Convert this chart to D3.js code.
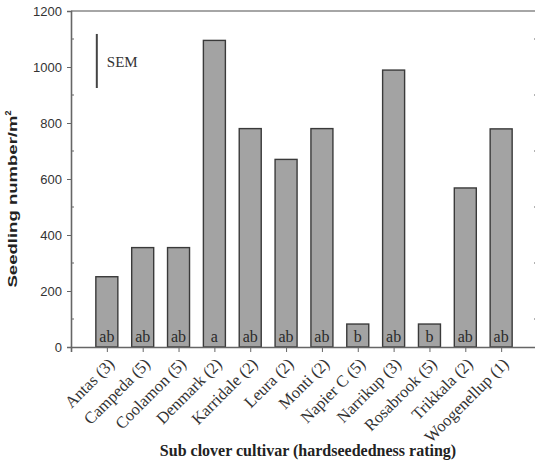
<!DOCTYPE html>
<html>
<head>
<meta charset="utf-8">
<script src="https://cdn.jsdelivr.net/npm/d3@7"></script>
<style>
  html, body { margin: 0; padding: 0; background: #fff; }
  svg { display: block; }
</style>
</head>
<body>
<svg id="chart" width="535" height="464"></svg>
<script>
// Seedling numbers by sub clover cultivar
const cultivars = ["Antas (3)", "Campeda (5)", "Coolamon (5)", "Denmark (2)", "Karridale (2)", "Leura (2)",
                   "Monti (2)", "Napier C (5)", "Narrikup (3)", "Rosabrook (5)", "Trikkala (2)", "Woogenellup (1)"];
const seedlings = [251, 355, 355, 1095, 780, 670, 780, 82, 989, 82, 568, 779];
const groups = ["ab", "ab", "ab", "a", "ab", "ab", "ab", "b", "ab", "b", "ab", "ab"];
const yMajorTicks = [0, 200, 400, 600, 800, 1000, 1200];
const yMinorTicks = [100, 300, 500, 700, 900, 1100];
const semRange = [925, 1118];   // SEM bar span on the y scale
const semPos = 0.72;            // SEM bar position on the x scale

const svg = d3.select("#chart");
const plotLeft = 71, plotRight = 537, plotTop = 11, plotBottom = 347;

const x = d3.scaleLinear().domain([0, cultivars.length + 1]).range([plotLeft, plotRight]);
const y = d3.scaleLinear().domain([0, 1200]).range([plotBottom, plotTop]);
const barW = 22;
const axisColor = "#666";
const serif = "'Liberation Serif', 'Times New Roman', serif";

// frame: top line
svg.append("line").attr("x1", plotLeft).attr("x2", plotRight).attr("y1", plotTop).attr("y2", plotTop)
  .attr("stroke", "#888").attr("stroke-width", 1.6);

// bars
svg.append("g").selectAll("rect").data(seedlings).join("rect")
  .attr("x", (d, i) => x(i + 1) - barW / 2)
  .attr("y", d => y(d))
  .attr("width", barW)
  .attr("height", d => y(0) - y(d))
  .attr("fill", "#a3a3a3")
  .attr("stroke", "#3a3a3a")
  .attr("stroke-width", 1.4);

// significance letters
svg.append("g").selectAll("text").data(groups).join("text")
  .attr("x", (d, i) => x(i + 1))
  .attr("y", y(0) - 5)
  .attr("text-anchor", "middle")
  .attr("font-family", serif)
  .attr("font-size", 16)
  .attr("fill", "#2a2a2a")
  .text(d => d);

// left axis: major ticks outside, minor ticks inside
const yAxisL = svg.append("g").attr("transform", `translate(${plotLeft},0)`)
  .call(d3.axisLeft(y).tickValues(yMajorTicks).tickSize(4).tickPadding(5).tickFormat(d3.format("d")));
yAxisL.append("g").selectAll("line").data(yMinorTicks).join("line")
  .attr("x1", 0).attr("x2", 3).attr("y1", d => y(d)).attr("y2", d => y(d))
  .attr("stroke", axisColor);
yAxisL.selectAll("text")
  .attr("font-family", "'Liberation Sans', Arial, sans-serif")
  .attr("font-size", 13)
  .attr("fill", "#333");

// right axis mirrored
const yAxisR = svg.append("g").attr("transform", `translate(${plotRight},0)`)
  .call(d3.axisRight(y).tickValues(yMajorTicks).tickSize(4).tickFormat(""));
yAxisR.append("g").selectAll("line").data(yMinorTicks).join("line")
  .attr("x1", 0).attr("x2", -3).attr("y1", d => y(d)).attr("y2", d => y(d))
  .attr("stroke", axisColor);

// bottom axis with slanted cultivar names
const xAxis = svg.append("g").attr("transform", `translate(0,${plotBottom})`)
  .call(d3.axisBottom(x).tickValues(d3.range(1, cultivars.length + 1)).tickSize(5)
    .tickFormat(i => cultivars[i - 1]));
xAxis.selectAll("text")
  .attr("font-family", serif)
  .attr("font-size", 16.5)
  .attr("fill", "#333")
  .attr("text-anchor", "end")
  .attr("dy", 0)
  .attr("y", 0)
  .attr("transform", "translate(8,18) rotate(-45)");

[yAxisL, yAxisR, xAxis].forEach(a => {
  a.select(".domain").attr("stroke", axisColor).attr("stroke-width", 1.6);
  a.selectAll(".tick line").attr("stroke", axisColor);
});

// SEM indicator
svg.append("line")
  .attr("x1", x(semPos)).attr("x2", x(semPos))
  .attr("y1", y(semRange[0])).attr("y2", y(semRange[1]))
  .attr("stroke", "#444").attr("stroke-width", 2);
svg.append("text")
  .attr("x", x(semPos) + 10).attr("y", 67)
  .attr("font-family", serif)
  .attr("font-size", 15).attr("fill", "#333")
  .text("SEM");

// axis titles
svg.append("text")
  .attr("x", (plotLeft + plotRight) / 2 + 4).attr("y", 456)
  .attr("text-anchor", "middle")
  .attr("font-family", serif)
  .attr("font-weight", "bold").attr("font-size", 16).attr("fill", "#222")
  .text("Sub clover cultivar (hardseededness rating)");

const yTitle = svg.append("text")
  .attr("transform", "translate(17,199) rotate(-90)")
  .attr("text-anchor", "middle")
  .attr("font-family", "'Liberation Sans', Arial, sans-serif")
  .attr("font-weight", "bold").attr("font-size", 13).attr("fill", "#222");
yTitle.append("tspan").attr("textLength", 172).attr("lengthAdjust", "spacingAndGlyphs").text("Seedling number/m");
yTitle.append("tspan").attr("font-size", 9).attr("dy", -6).text("2");
</script>
</body>
</html>
